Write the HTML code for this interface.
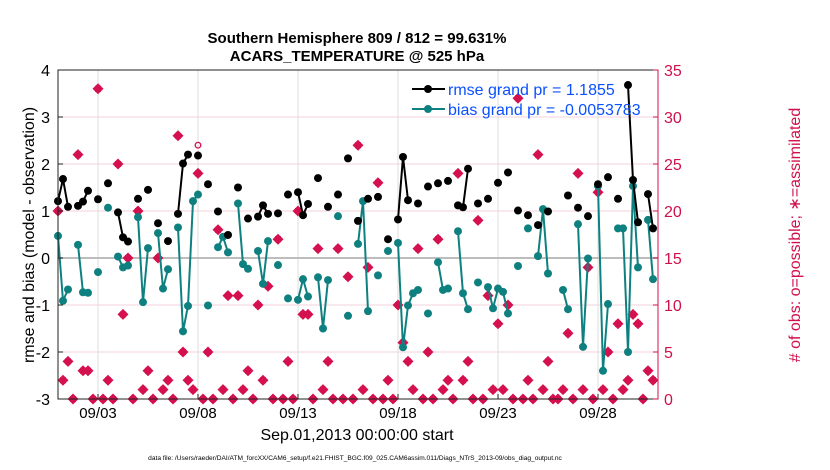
<!DOCTYPE html>
<html><head><meta charset="utf-8"><style>
body{margin:0;background:#fff;}
svg{display:block;font-family:"Liberation Sans",Arial,sans-serif;}
</style></head><body>
<svg id="chart" width="830" height="470" xmlns="http://www.w3.org/2000/svg">
<g>
<text x="357" y="43" text-anchor="middle" font-size="15" font-weight="bold">Southern Hemisphere 809 / 812 = 99.631%</text>
<text x="357" y="61" text-anchor="middle" font-size="15" font-weight="bold">ACARS_TEMPERATURE @ 525 hPa</text>
</g>
<g id="grid"></g>
<g id="marks"></g>
<rect x="58" y="70" width="600" height="329" fill="none" stroke="#222" stroke-width="1"/>
<line x1="658" y1="70" x2="658" y2="399" stroke="#d0104c" stroke-width="1"/>
<g id="axes"></g>
<text transform="translate(34,235) rotate(-90)" text-anchor="middle" font-size="16">rmse and bias (model - observation)</text>
<text transform="translate(800,235) rotate(-90)" text-anchor="middle" font-size="16" fill="#d0104c"># of obs: o=possible; ∗=assimilated</text>
<text x="357" y="440" text-anchor="middle" font-size="16">Sep.01,2013 00:00:00 start</text>
<text x="355" y="460" text-anchor="middle" font-size="6.6">data file: /Users/raeder/DAI/ATM_forcXX/CAM6_setup/f.e21.FHIST_BGC.f09_025.CAM6assim.011/Diags_NTrS_2013-09/obs_diag_output.nc</text>
<g>
<line x1="412" y1="89" x2="445" y2="89" stroke="#000" stroke-width="2"/>
<circle cx="428" cy="89" r="4" fill="#000"/>
<text x="448" y="95" font-size="16" fill="#0a50ff">rmse grand pr = 1.1855</text>
<line x1="412" y1="109" x2="445" y2="109" stroke="#0f8080" stroke-width="2"/>
<circle cx="428" cy="109" r="4" fill="#0f8080"/>
<text x="448" y="115" font-size="16" fill="#0a50ff">bias grand pr = -0.0053783</text>
</g>
</svg>
<script>
const N=null;
const rmse=[1.21,1.68,1.09,N,1.11,1.2,1.43,N,1.25,N,1.59,N,0.97,0.44,0.35,N,1.26,N,1.45,N,0.74,N,0.36,N,0.94,2.01,2.2,N,2.18,N,1.57,N,0.99,N,0.49,N,1.5,N,0.84,N,0.88,1.12,0.94,N,0.95,N,1.35,N,1.4,0.91,1.15,N,1.7,N,1.09,N,1.35,N,2.12,N,0.79,N,1.26,N,1.3,N,0.4,N,0.82,2.15,1.23,N,1.16,N,1.52,N,1.59,N,1.64,N,1.12,1.08,1.9,N,1.16,N,1.26,N,1.6,N,1.82,N,1.01,N,0.91,N,0.7,N,0.99,N,N,N,1.33,N,1.07,N,0.89,N,1.57,N,1.72,N,1.26,N,3.68,1.66,0.76,N,1.36,0.63];
const bias=[0.47,-0.91,-0.67,N,0.28,-0.73,-0.74,N,-0.3,N,1.07,N,0.03,-0.2,-0.16,N,0.87,-0.94,0.21,N,0.53,-0.65,-0.24,N,0.65,-1.56,-1.02,1.21,1.35,N,-1.01,N,0.23,0.45,0.12,N,1.16,-0.13,-0.23,N,0.15,-0.55,0.36,N,-0.15,N,-0.86,N,-0.89,-0.45,-0.82,N,-0.41,-1.5,-0.47,N,0.89,N,-1.23,N,0.3,1.21,-1.13,N,-0.37,N,0.15,N,0.32,-1.9,-1.01,-0.75,-0.68,N,-1.18,N,-0.09,-0.68,-0.65,N,0.57,-0.75,-1.09,N,-0.52,N,-0.62,-1.07,-0.65,-0.72,-1.18,N,-0.17,N,0.63,N,0.04,1.04,-0.33,N,N,-0.68,-1.09,N,0.72,-1.89,-0.01,N,1.53,-2.4,-0.98,N,0.63,0.63,-2.0,1.53,-0.2,N,0.81,-0.45];
const nUsed=[20,2,4,0,26,3,3,0,33,0,2,0,25,9,15,0,20,1,3,0,15,1,2,0,28,5,2,1,24,0,5,0,18,1,11,0,11,1,3,0,10,2,12,0,17,0,4,0,20,9,9,0,16,1,4,0,16,0,13,0,27,1,14,0,23,0,2,0,10,6,4,1,16,0,5,0,17,1,2,0,24,2,4,0,19,0,11,1,8,1,10,0,32,0,2,0,26,1,4,0,0,1,7,0,24,1,14,0,22,1,5,0,8,1,2,9,8,0,3,2];
const nPoss=nUsed.map((v,i)=>i===28?27:v);
const dayTicks=[3,8,13,18,23,28];
const dayLabels=["09/03","09/08","09/13","09/18","09/23","09/28"];
const leftTicks=[-3,-2,-1,0,1,2,3,4];
const rightTicks=[0,5,10,15,20,25,30,35];

const NS="http://www.w3.org/2000/svg";
const X0=58,X1=658,Y0=70,Y1=399;
const xIdx=i=>X0+5*i;
const xDay=d=>X0+(d-1)*20;
const yL=v=>Y1-(v+3)/7*(Y1-Y0);
const yR=c=>Y1-c/35*(Y1-Y0);
function mk(tag,attrs,parent){const e=document.createElementNS(NS,tag);for(const k in attrs)e.setAttribute(k,attrs[k]);parent.appendChild(e);return e;}
const grid=document.getElementById('grid'),marks=document.getElementById('marks'),axes=document.getElementById('axes');

rightTicks.forEach(c=>{if(c>0&&c<35){const l=mk('line',{x1:X0,x2:X1,y1:yR(c),y2:yR(c),stroke:'#f3d3df','stroke-width':1},grid);

}});
dayTicks.forEach(d=>{const l=mk('line',{x1:xDay(d),x2:xDay(d),y1:Y0,y2:Y1,stroke:'#dcdcdc','stroke-width':1},grid);

});
const z=mk('line',{x1:X0,x2:X1,y1:yL(0),y2:yL(0),stroke:'#bdbdbd','stroke-width':2},grid);



function star(cx,cy,g){const s=5.5;
 mk('polygon',{points:`${cx},${cy-s} ${cx+s},${cy} ${cx},${cy+s} ${cx-s},${cy}`,fill:'#d5104f'},g);
 mk('rect',{x:cx-3,y:cy-3,width:6,height:6,fill:'#d5104f'},g);}
nPoss.forEach((c,i)=>{if(c!==nUsed[i]){const o=mk('circle',{cx:xIdx(i),cy:yR(c),r:2.8,fill:'none',stroke:'#d5104f','stroke-width':1.3},marks);

}});
nUsed.forEach((c,i)=>{const g=mk('g',{},marks);


star(xIdx(i),yR(c),g);});

function series(arr,color,name){
 let segs=[],cur=[];
 arr.forEach((v,i)=>{if(v===null){if(cur.length)segs.push(cur);cur=[];}else cur.push([xIdx(i),yL(v)]);});
 if(cur.length)segs.push(cur);
 segs.forEach(s=>{if(s.length>1){const p=mk('polyline',{points:s.map(q=>q.join(',')).join(' '),fill:'none',stroke:color,'stroke-width':2},marks);
 
 }});
 arr.forEach((v,i)=>{if(v!==null){const c=mk('circle',{cx:xIdx(i),cy:yL(v),r:4,fill:color},marks);
 
 }});
}
series(bias,'#0f8080','bias');
series(rmse,'#000','rmse');

leftTicks.forEach(v=>{const t=mk('text',{x:50,y:yL(v)+6,'text-anchor':'end','font-size':16},axes);t.textContent=v;


mk('line',{x1:X0,x2:X0+5,y1:yL(v),y2:yL(v),stroke:'#222'},axes);});
rightTicks.forEach(c=>{const t=mk('text',{x:664,y:yR(c)+6,'font-size':16,fill:'#d0104c'},axes);t.textContent=c;


mk('line',{x1:X1-5,x2:X1,y1:yR(c),y2:yR(c),stroke:'#d0104c'},axes);});
dayTicks.forEach((d,k)=>{const t=mk('text',{x:xDay(d),y:418,'text-anchor':'middle','font-size':15},axes);t.textContent=dayLabels[k];


mk('line',{x1:xDay(d),x2:xDay(d),y1:Y1,y2:Y1-5,stroke:'#222'},axes);});
</script>
</body></html>
